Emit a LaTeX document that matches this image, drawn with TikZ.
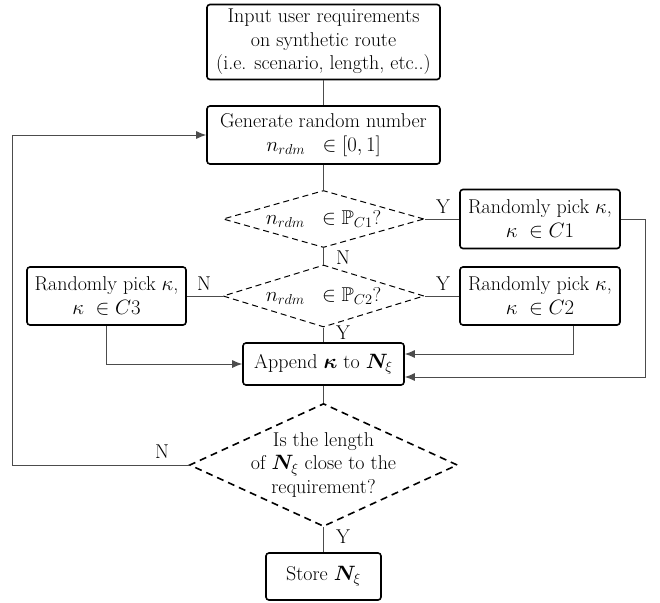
\documentclass[tikz,border=0pt]{standalone}
\usepackage{amssymb,bm}
\usetikzlibrary{shapes.geometric,arrows.meta}
\begin{document}
\begin{tikzpicture}[x=1pt,y=-1pt, font=\fontsize{20}{23.5}\selectfont,
  box/.style={draw, line width=1.6pt, rounded corners=3pt, align=center, inner sep=0pt},
  dia/.style={draw, diamond, inner sep=0pt, line width=1pt, dash pattern=on 6pt off 4pt},
  conn/.style={draw=black!70, line width=1pt},
  arr/.style={conn, -{Latex[length=10pt,width=8pt]}},
  lab/.style={inner sep=0pt}]
\useasboundingbox (0,0) rectangle (660,602);

\node[box, minimum width=233pt, minimum height=75pt] (in) at (323.5,42) {Input user requirements\\on synthetic route\\(i.e. scenario, length, etc..)};
\node[box, minimum width=233pt, minimum height=58pt] (gen) at (323.5,135) {Generate random number\\$n_{rdm}\;\;\in[0,1]$};
\node[dia, minimum width=201pt, minimum height=57pt] (d1) at (323.5,219) {};
\node[inner sep=0pt] (t1) at (d1) {$n_{rdm}\;\;\in\mathbb{P}_{C1}$?};
\node[dia, minimum width=201pt, minimum height=62pt] (d2) at (323.5,296) {};
\node[inner sep=0pt] (t2) at (d2) {$n_{rdm}\;\;\in\mathbb{P}_{C2}$?};
\node[box, minimum width=160pt, minimum height=59pt] (c1) at (540,219) {Randomly pick\ $\kappa$,\\$\kappa\;\in C1$};
\node[box, minimum width=160pt, minimum height=58pt] (c2) at (540,296) {Randomly pick\ $\kappa$,\\$\kappa\;\in C2$};
\node[box, minimum width=159pt, minimum height=58pt] (c3) at (106.5,296) {Randomly pick\ $\kappa$,\\$\kappa\;\in C3$};
\node[box, minimum width=161pt, minimum height=42pt] (app) at (323.5,364) {Append $\bm{\kappa}$ to $\bm{N}_\xi$};
\node[dia, line width=1.6pt, dash pattern=on 7pt off 5pt, minimum width=268pt, minimum height=123pt] (d3) at (323.5,465) {};
\node[align=center, inner sep=0pt] (t3) at (d3) {Is the length\\of $\bm{N}_\xi$ close to the\\requirement?};
\node[box, minimum width=115pt, minimum height=47pt] (st) at (323.5,576.5) {Store $\bm{N}_\xi$};

\draw[conn] (in) -- (gen);
\draw[conn] (gen) -- (d1);
\draw[conn] (d1.east) -- (c1.west);
\draw[conn] (d1.south) -- (d2.north);
\draw[conn] (d2.east) -- (c2.west);
\draw[conn] (d2.west) -- (c3.east);
\draw[conn] (d2.south) -- (app.north);
\draw[arr] (c3.south) |- (app.west);
\coordinate (c2d) at ([xshift=33pt]c2.south);
\draw[arr] (c2d) |- ([yshift=10pt]app.east);
\draw[arr] (c1.east) -- ++(25,0) |- ([yshift=-13pt]app.east);
\draw[conn] (app) -- (d3);
\draw[conn] (d3) -- (st);
\draw[arr] (d3.west) -- ++(-176,0) |- (gen.west);

\node[lab] at (443,207) {Y};
\node[lab] at (343,258) {N};
\node[lab] at (443,284) {Y};
\node[lab] at (204,284) {N};
\node[lab] at (343,333) {Y};
\node[lab] at (162,452) {N};
\node[lab] at (343,537) {Y};
\end{tikzpicture}
\end{document}
